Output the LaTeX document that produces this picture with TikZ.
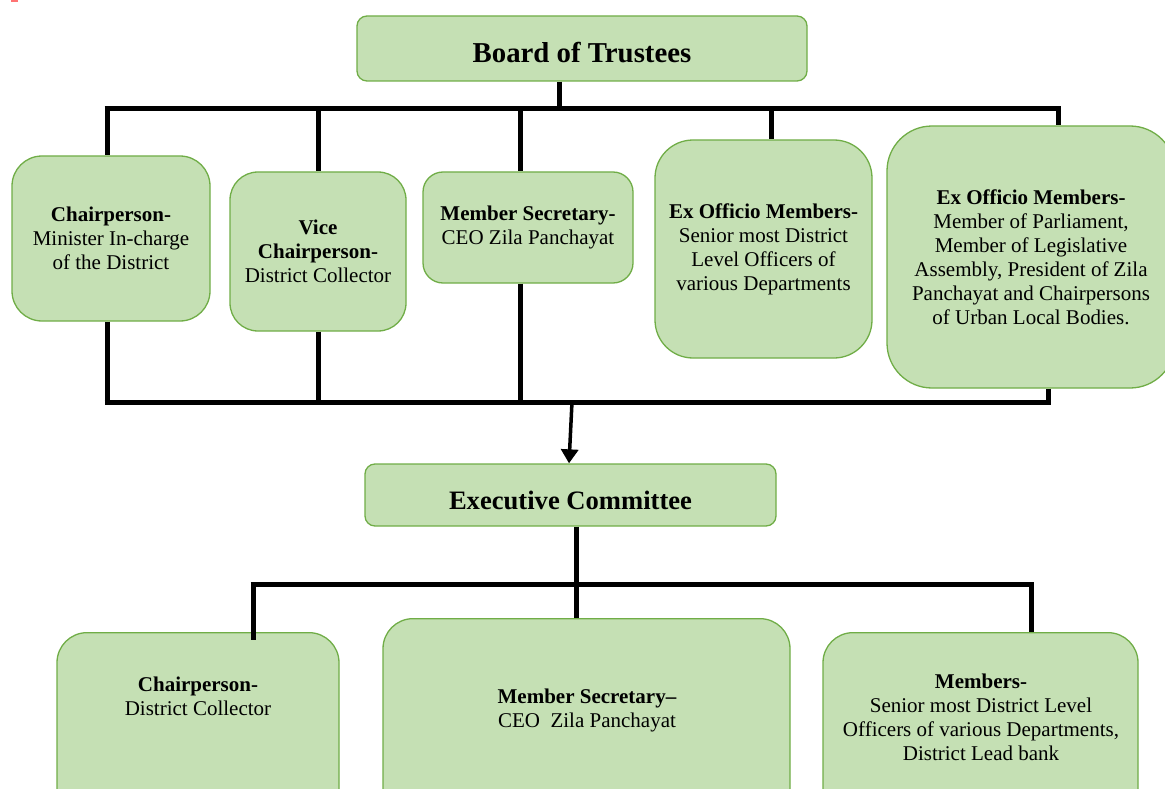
\documentclass[tikz,border=0pt]{standalone}
\usepackage{fontspec}
\setmainfont{Liberation Serif}
\usetikzlibrary{arrows.meta}
\definecolor{boxfill}{HTML}{C5E0B4}
\definecolor{boxline}{HTML}{70AD47}
\begin{document}
\begin{tikzpicture}[x=1pt,y=-1pt,
  box/.style={draw=boxline,fill=boxfill,line width=1.3pt,align=center,inner sep=0pt,
    font=\fontsize{21}{24}\selectfont},
  headbox/.style={box,rounded corners=10pt,text height=28pt,text depth=0pt},
  boxtext/.style={align=center,inner sep=0pt,font=\fontsize{21}{24}\selectfont},
  link/.style={line width=5pt}]
  \useasboundingbox (0,0) rectangle (1165,789);
  \clip (0,0) rectangle (1165,789);
  \fill[red!55] (11,0) rectangle (18,2);

  % the two committees
  \node[headbox,font=\bfseries\fontsize{28.8}{32}\selectfont,minimum width=450pt,minimum height=65pt] (board) at (582,48.5) {Board of Trustees};
  \node[headbox,font=\bfseries\fontsize{26.6}{32}\selectfont,minimum width=411pt,minimum height=62pt] (exec) at (570.5,495) {Executive Committee};

  % board of trustees
  \node[box,rounded corners=30pt,minimum width=198pt,minimum height=165pt] (chair) at (111,238.5)
    {\textbf{Chairperson-}\\Minister In-charge\\of the District};
  \node[box,rounded corners=28pt,minimum width=176pt,minimum height=159pt] (vice) at (318,251.5)
    {\textbf{Vice}\\\textbf{Chairperson-}\\District Collector};
  \node[box,rounded corners=20pt,minimum width=210pt,minimum height=111pt] (secy) at (528,227.5)
    {\textbf{Member Secretary-}\\CEO Zila Panchayat};
  \node[box,rounded corners=38pt,minimum width=217pt,minimum height=218pt] (exoff) at (763.5,249)
    {\textbf{Ex Officio Members-}\\Senior most District\\Level Officers of\\various Departments};
  \node[box,rounded corners=45pt,minimum width=288pt,minimum height=262pt] (mps) at (1031,257)
    {\textbf{Ex Officio Members-}\\Member of Parliament,\\Member of Legislative\\Assembly, President of Zila\\Panchayat and Chairpersons\\of Urban Local Bodies.};

  % executive committee
  \node[box,rounded corners=30pt,minimum width=282pt,minimum height=220pt,anchor=north] (ecchair) at (198,632) {};
  \node[box,rounded corners=30pt,minimum width=407pt,minimum height=220pt,anchor=north] (ecsecy) at (586.5,618) {};
  \node[box,rounded corners=30pt,minimum width=315pt,minimum height=220pt,anchor=north] (ecmem) at (980.5,632) {};
  \node[boxtext] (ecchairtext) at (198,696) {\textbf{Chairperson-}\\District Collector};
  \node[boxtext] (ecsecytext) at (587,710) {\textbf{Member Secretary–}\\CEO\ \ Zila Panchayat};
  \node[boxtext] (ecmemtext) at (981,717) {\textbf{Members-}\\Senior most District Level\\Officers of various Departments,\\District Lead bank};

  % upper lines
  \coordinate (t0) at (559,109);
  \draw[link] (t0 |- board.south) -- (t0);
  \draw[link] (104.5,109) -- (1060.5,109);
  \foreach \n/\x in {chair/107,vice/318,secy/520,exoff/771,mps/1058}{
    \coordinate (t) at (\x,109);
    \draw[link] (t) -- (t |- \n.north);
  }
  \draw[link] (104.5,402) -- (1050.5,402);
  \foreach \n/\x in {chair/107,vice/318,secy/520,mps/1048}{
    \coordinate (b) at (\x,402);
    \draw[link] (b |- \n.south) -- (b);
  }
  \coordinate (a0) at (572,402);
  \draw[line width=3.5pt,-{Triangle[length=14pt,width=17pt]}] (a0) -- ([xshift=-1.5pt]exec.north);

  % lower lines
  \coordinate (e0) at (576,584);
  \draw[link] (e0 |- exec.south) -- (e0 |- ecsecy.north);
  \draw[link] (250.5,584) -- (1033.5,584);
  \coordinate (e1) at (253,584);
  \coordinate (e2) at (1031,584);
  \draw[link,shorten >=-8pt] (e1) -- (e1 |- ecchair.north);
  \draw[link] (e2) -- (e2 |- ecmem.north);
\end{tikzpicture}
\end{document}
